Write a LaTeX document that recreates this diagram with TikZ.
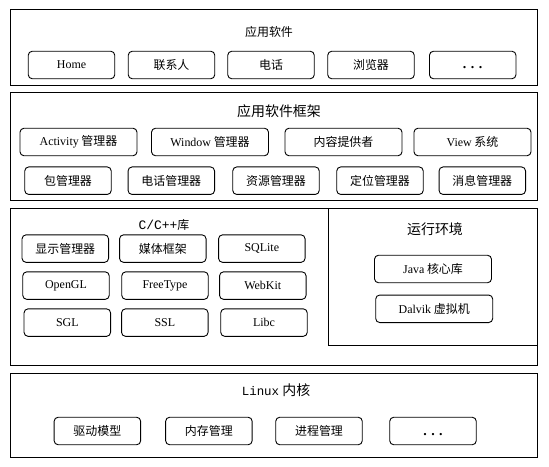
\documentclass[tikz,border=0pt]{standalone}
\usepackage{fontspec}
\setmainfont{Liberation Serif}
\newfontfamily\cjk{Noto Sans CJK SC}
\newfontfamily\monof{Liberation Mono}
\newcommand\en[1]{{\rmfamily #1}}
\newcommand\mydots{\raisebox{-4bp}[0pt][0pt]{\en{\bfseries\fontsize{14}{16}\selectfont .\hspace{4.5bp}.\hspace{4.5bp}.}}}
\begin{document}
\begin{tikzpicture}[x=1bp,y=-1bp,
  layer/.style={draw, line width=1bp, rectangle, inner sep=0pt},
  item/.style={draw, line width=0.9bp, rounded corners=4bp, inner sep=0pt,
    minimum height=27.5bp, minimum width=86.5bp, font=\cjk\fontsize{12}{14}\selectfont},
  wide/.style={item, minimum width=117bp},
  title/.style={inner sep=0pt, font=\cjk\fontsize{12}{14}\selectfont},
  bigtitle/.style={inner sep=0pt, font=\cjk\fontsize{14}{16}\selectfont}]
\useasboundingbox (0,0) rectangle (549,467);

% layer 1
\node[layer, minimum width=526bp, minimum height=76bp] (app) at (274,48) {};
\node[title] (appt) at (269,32) {应用软件};
\node[item] (home) at (71.5,65) {\en{Home}};
\node[item] (contacts) at (171.5,65) {联系人};
\node[item] (phone) at (271,65) {电话};
\node[item] (browser) at (371,65) {浏览器};
\node[item] (appmore) at (472.7,65) {\mydots};

% layer 2
\node[layer, minimum width=526bp, minimum height=107.3bp] (fw) at (274,146.4) {};
\node[bigtitle] (fwt) at (279,111) {应用软件框架};
\node[wide] (activity) at (78.5,142) {\en{Activity} 管理器};
\node[wide] (window) at (210,142) {\en{Window} 管理器};
\node[wide] (content) at (343.5,142) {内容提供者};
\node[wide] (view) at (472.5,142) {\en{View} 系统};
\node[item] (pkg) at (68,180.7) {包管理器};
\node[item] (tel) at (171.3,180.7) {电话管理器};
\node[item] (res) at (276,180.7) {资源管理器};
\node[item] (loc) at (380,180.7) {定位管理器};
\node[item] (msg) at (482.3,180.7) {消息管理器};

% layer 3
\node[layer, minimum width=526bp, minimum height=157.7bp] (lib) at (274,286.9) {};
\node[title] (libt) at (164,225) {{\monof\fontsize{13}{14}\selectfont C/C++}库};
\node[item] (surface) at (65.3,248.6) {显示管理器};
\node[item] (media) at (162.8,248.6) {媒体框架};
\node[item] (sqlite) at (261.8,248.6) {\en{SQLite}};
\node[item] (opengl) at (66,285.6) {\en{OpenGL}};
\node[item] (freetype) at (165,285.6) {\en{FreeType}};
\node[item] (webkit) at (262.8,285.6) {\en{WebKit}};
\node[item] (sgl) at (67.3,322.6) {\en{SGL}};
\node[item] (ssl) at (164.8,322.6) {\en{SSL}};
\node[item] (libc) at (264,322.6) {\en{Libc}};

\node[layer, minimum width=209bp, minimum height=137.7bp] (rt) at (432.5,276.9) {};
\node[bigtitle] (rtt) at (435,229.5) {运行环境};
\node[wide] (java) at (433,269) {\en{Java} 核心库};
\node[wide] (dalvik) at (434.2,308.8) {\en{Dalvik} 虚拟机};

% layer 4
\node[layer, minimum width=526bp, minimum height=83.7bp] (kernel) at (274,415.2) {};
\node[bigtitle] (kernelt) at (276,390) {{\monof\fontsize{12.5}{14}\selectfont Linux} 内核};
\node[item] (driver) at (97.4,431) {驱动模型};
\node[item] (mem) at (208.9,431) {内存管理};
\node[item] (proc) at (319,431) {进程管理};
\node[item] (kmore) at (433,431) {\mydots};
\end{tikzpicture}
\end{document}
